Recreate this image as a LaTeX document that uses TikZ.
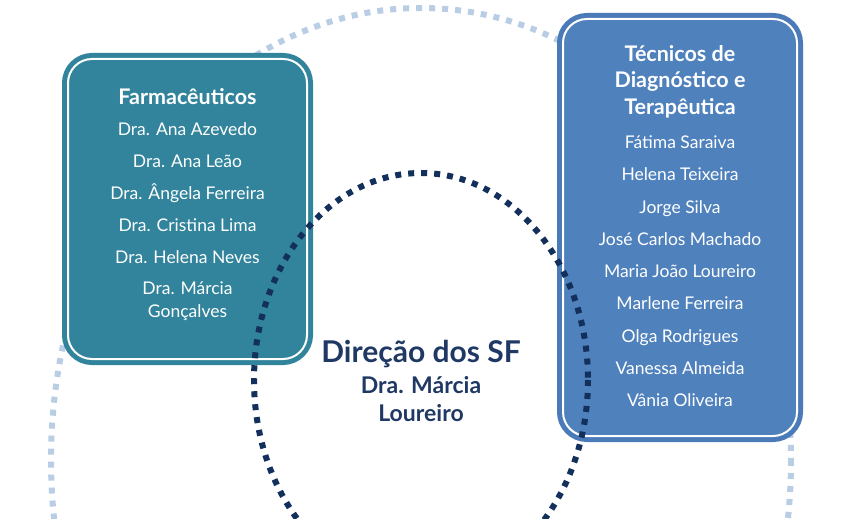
\documentclass[tikz,border=0pt]{standalone}
\usepackage{fontspec}
\setmainfont{Lato}
\usepackage{tikz}

\definecolor{farmteal}{HTML}{31849B}
\definecolor{tecblue}{HTML}{4F81BD}
\definecolor{tecrim}{HTML}{4A7AB8}
\definecolor{lightdot}{HTML}{B9CDE5}
\definecolor{navy}{HTML}{132F5C}
\definecolor{dirtext}{HTML}{1F3864}

\begin{document}
\begin{tikzpicture}[x=1pt, y=-1pt,
    lightdots/.style={lightdot, line width=6pt, dash pattern=on 6pt off 7pt},
    navydots/.style={navy, line width=6pt, dash pattern=on 6pt off 7pt},
    farmbox/.style={draw=white, line width=2pt, fill=farmteal, rounded corners=24pt,
        minimum width=239pt, minimum height=300pt,
        preaction={draw=farmteal, line width=12pt}},
    tecbox/.style={draw=white, line width=2pt, fill=tecblue, rounded corners=24pt,
        minimum width=234pt, minimum height=417pt,
        preaction={draw=tecrim, line width=12pt}},
    titulo/.style={text=white, font=\bfseries\fontsize{21.5}{26.5}\selectfont, align=center},
    membro/.style={text=white, font=\fontsize{17.5}{23}\selectfont, anchor=base},
    dirtit/.style={text=dirtext, font=\bfseries\fontsize{30}{30}\selectfont, anchor=base},
    dirnome/.style={text=dirtext, font=\bfseries\fontsize{23}{28}\selectfont, align=center}]
  \useasboundingbox (0,0) rectangle (844,519);
  \clip (0,0) rectangle (844,519);

  % outer ring, behind the boxes
  \draw[lightdots] (421,460) ellipse [x radius=370, y radius=452];

  % boxes
  \node[farmbox] (farm) at (187.5,209) {};
  \node[tecbox] (tec) at (680,227.5) {};

  % inner ring, over the boxes
  \draw[navydots] (421,380) ellipse [x radius=167, y radius=207];

  % Farmaceuticos
  \node[titulo, anchor=base] (farmtit) at (187.5,104) {Farmacêuticos};
  \foreach \nome [count=\i] in {Dra. Ana Azevedo, Dra. Ana Leão, Dra. Ângela Ferreira,
      Dra. Cristina Lima, Dra. Helena Neves}
    \node[membro] (farm\i) at (187.5,103.5+32*\i) {\nome};
  \node[membro, anchor=center, align=center] (farm6) at (187.5,301.5) {Dra. Márcia\\Gonçalves};

  % Tecnicos
  \node[titulo] (tectit) at (680,81.5) {Técnicos de\\Diagnóstico e\\Terapêutica};
  \foreach \nome [count=\i] in {Fátima Saraiva, Helena Teixeira, Jorge Silva,
      José Carlos Machado, Maria João Loureiro, Marlene Ferreira, Olga Rodrigues,
      Vanessa Almeida, Vânia Oliveira}
    \node[membro] (tec\i) at (680,116.25+32.25*\i) {\nome};

  % Direcao
  \node[dirtit] (dir) at (421,362) {Direção dos SF};
  \node[dirnome] (dirnm) at (421,399) {Dra. Márcia\\Loureiro};
\end{tikzpicture}
\end{document}
